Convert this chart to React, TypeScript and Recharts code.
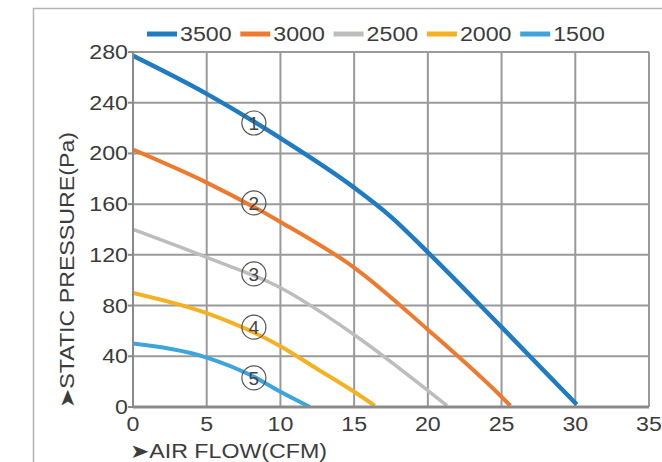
import React from 'react';
import { ComposedChart, Line, Scatter, XAxis, YAxis, CartesianGrid } from 'recharts';

// ---- data ----
const flow3500 = [0, 5, 10, 15, 17.5, 20, 25, 30.1];
const pres3500 = [277, 247, 212, 173, 150, 122, 63, 2];

const flow3000 = [0, 5, 10, 15, 20, 25, 25.6];
const pres3000 = [203, 177, 146, 110, 61, 8, 1];

const flow2500 = [0, 5, 10, 15, 20, 21.3];
const pres2500 = [140, 118, 94, 57, 13, 1];

const flow2000 = [0, 5, 10, 12.5, 15, 16.4];
const pres2000 = [90, 74, 48, 30, 12, 1];

const flow1500 = [0, 5, 8, 10, 12];
const pres1500 = [50, 39, 25, 12, 0];

const seriesNames = ['3500', '3000', '2500', '2000', '1500'];
const markerFlow = [8.2, 8.2, 8.2, 8.2, 8.2];
const markerPres = [224, 161, 105, 63, 23];
const markerLabels = ['1', '2', '3', '4', '5'];

const xTicks = [0, 5, 10, 15, 20, 25, 30, 35];
const yTicks = [0, 40, 80, 120, 160, 200, 240, 280];

const xTitle = '\u27A4AIR FLOW(CFM)';
const yTitle = '\u27A4STATIC PRESSURE(Pa)';

// ---- styles ----
const colors = ['#1f7cc2', '#ee7a2e', '#bdbdbd', '#f4b223', '#3da5db'];
const widths = [4.5, 4, 3.5, 4, 4];
const FONT = '"Liberation Sans", Arial, sans-serif';
const TEXT = '#3c3c3c';
const SX = 1.16;

const toPoints = (xs: number[], ys: number[]) => xs.map((x, i) => ({ x, y: ys[i] }));
const series = [
  toPoints(flow3500, pres3500),
  toPoints(flow3000, pres3000),
  toPoints(flow2500, pres2500),
  toPoints(flow2000, pres2000),
  toPoints(flow1500, pres1500),
];
const markers = markerFlow.map((x, i) => ({ x, y: markerPres[i], n: markerLabels[i] }));

const YTick = (props: any) => {
  const { x, y, payload } = props;
  return (
    <text transform={`translate(${x},${y + 7}) scale(${SX},1)`} textAnchor="end"
      fontFamily={FONT} fontSize={20} fill={TEXT}>{payload.value}</text>
  );
};

const XTick = (props: any) => {
  const { x, y, payload } = props;
  return (
    <text transform={`translate(${x},${y + 24}) scale(${SX},1)`} textAnchor="middle"
      fontFamily={FONT} fontSize={20} fill={TEXT}>{payload.value}</text>
  );
};

const MarkerShape = (props: any) => {
  const { cx, cy, payload } = props;
  return (
    <g>
      <circle cx={cx} cy={cy} r={12} fill="none" stroke="#555" strokeWidth={1.2} />
      <text x={cx} y={cy + 7} textAnchor="middle" fontFamily={FONT} fontSize={19} fill="#444">
        {payload.n}
      </text>
    </g>
  );
};

export default function App() {
  return (
    <div style={{ position: 'absolute', left: 0, top: 0, width: 662, height: 462, background: '#fff' }}>
      <ComposedChart width={662} height={462} margin={{ top: 52, right: 13, left: 0, bottom: 0 }}>
        <CartesianGrid stroke="#9a9a9a" strokeWidth={2} />
        <XAxis type="number" dataKey="x" domain={[0, 35]} ticks={xTicks} height={55}
          axisLine={{ stroke: '#8a8a8a', strokeWidth: 3 }} tickLine={false} tickSize={0} tickMargin={0}
          tick={<XTick />} interval={0} allowDataOverflow />
        <YAxis type="number" dataKey="y" domain={[0, 280]} ticks={yTicks} width={133}
          axisLine={{ stroke: '#8a8a8a', strokeWidth: 2 }} tickLine={{ stroke: '#8a8a8a', strokeWidth: 2 }}
          tickSize={5} tickMargin={0} tick={<YTick />} interval={0} allowDataOverflow />
        {series.map((d, i) => (
          <Line key={seriesNames[i]} data={d} dataKey="y" name={seriesNames[i]} type="monotone"
            stroke={colors[i]} strokeWidth={widths[i]} dot={false} activeDot={false}
            isAnimationActive={false} />
        ))}
        <Scatter data={markers} dataKey="y" shape={<MarkerShape />} isAnimationActive={false} />
      </ComposedChart>
      <svg width={662} height={462} style={{ position: 'absolute', left: 0, top: 0, pointerEvents: 'none' }}>
        <path d="M33.5,462 L33.5,8.5 L662,8.5" fill="none" stroke="#b5b5b5" strokeWidth={1.5} />
        {seriesNames.map((nm, i) => {
          const x0 = 147 + 93.3 * i;
          return (
            <g key={nm}>
              <line x1={x0} y1={34} x2={x0 + 30} y2={34} stroke={colors[i]} strokeWidth={5} />
              <text transform={`translate(${x0 + 33},${41}) scale(${SX},1)`} fontFamily={FONT}
                fontSize={20} fill={TEXT}>{nm}</text>
            </g>
          );
        })}
        <text transform={`translate(130,458) scale(${SX},1)`} fontFamily={FONT} fontSize={20} fill={TEXT}>
          {xTitle}
        </text>
        <text transform={`translate(74,270) rotate(-90) scale(${SX},1)`} textAnchor="middle"
          fontFamily={FONT} fontSize={20} fill={TEXT}>{yTitle}</text>
      </svg>
    </div>
  );
}
